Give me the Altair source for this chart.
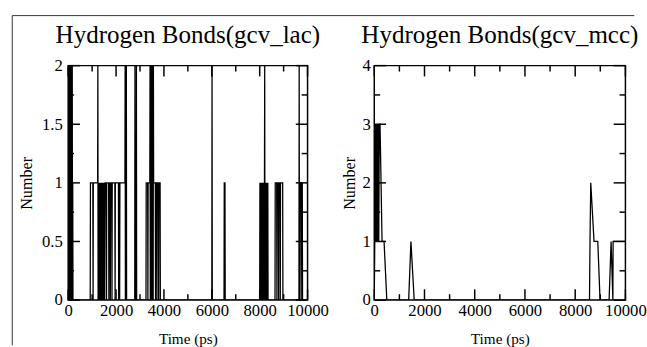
import altair as alt
import pandas as pd

# ---------------- data ----------------
lac_time = [
    0, 10, 20, 30, 40, 50, 60, 70, 80, 90, 100, 110, 120, 130, 140, 150, 160, 170, 180, 190, 200,
    920, 930, 1030, 1040, 1050, 1230, 1240, 1250, 1260,
    1280, 1290, 1300, 1320, 1330, 1340, 1360, 1370, 1390, 1400, 1410, 1430, 1440, 1450, 1470, 1480, 1500, 1510, 1520, 1540,
    1590, 1600, 1610, 1690, 1700, 1710, 1750, 1760, 1770, 1820, 1830, 1840, 1950, 1960, 1970, 2100, 2110, 2120, 2140, 2150, 2160,
    2370, 2380, 2390, 2400, 2410, 2430, 2440,
    2780, 2790, 2800, 2840, 2850, 2860,
    3250, 3260, 3320, 3330, 3340, 3410, 3420, 3430, 3440, 3450, 3460, 3470, 3480, 3490, 3500, 3510, 3520, 3530, 3540, 3550, 3560, 3570,
    3640, 3650, 3660, 3700, 3710, 3720, 3770, 3780, 3790, 3840, 3850,
    6000, 6010, 6020,
    6510, 6520, 6550, 6560,
    8000, 8010, 8020, 8030, 8050, 8060, 8070, 8090, 8100, 8110, 8130, 8140, 8160, 8170, 8180, 8200, 8210, 8220, 8230, 8250, 8260, 8270, 8290, 8300, 8310, 8330, 8340, 8350,
    8640, 8650, 8710, 8720, 8730, 8780, 8790, 8800, 8850, 8860, 8870, 8960, 8970,
    9640, 9650, 9660, 9670, 9720, 9730, 9740, 9780, 9790, 10000,
]
lac_value = [
    0, 2, 0, 2, 1, 2, 0, 2, 1, 2, 0, 2, 0, 2, 1, 2, 0, 2, 0, 1, 0,
    0, 1, 1, 0, 1, 1, 2, 0, 1,
    0, 1, 0, 1, 0, 1, 0, 1, 0, 1, 0, 1, 0, 1, 0, 1, 0, 1, 0, 1,
    1, 0, 1, 1, 0, 1, 1, 0, 1, 1, 0, 1, 1, 0, 1, 1, 0, 1, 1, 0, 1,
    1, 2, 0, 2, 1, 2, 0,
    0, 2, 0, 0, 2, 0,
    0, 1, 1, 0, 1, 1, 2, 0, 2, 1, 2, 0, 2, 1, 2, 0, 2, 1, 2, 0, 2, 1,
    1, 0, 1, 1, 0, 1, 1, 0, 1, 1, 0,
    0, 2, 0,
    0, 1, 1, 0,
    0, 1, 0, 1, 0, 1, 0, 1, 0, 1, 0, 1, 0, 1, 0, 1, 2, 0, 1, 0, 1, 0, 1, 0, 1, 0, 1, 0,
    0, 1, 1, 0, 1, 1, 0, 1, 1, 0, 1, 1, 0,
    0, 2, 0, 1, 1, 0, 1, 1, 0, 0,
]

mcc_time = [0, 20, 40, 60, 80, 100, 120, 140, 160, 180, 200, 230, 310, 390, 500,
            1370, 1460, 1590,
            8570, 8590, 8620, 8750, 8900, 8990,
            9350, 9430, 9500, 9510, 10000]
mcc_value = [0, 1, 3, 1, 3, 1, 3, 1, 3, 1, 3, 3, 1, 1, 0,
             0, 1, 0,
             0, 1, 2, 1, 1, 0,
             0, 1, 0, 1, 1]

x_major = [0, 2000, 4000, 6000, 8000, 10000]
x_minor = [1000, 3000, 5000, 7000, 9000]
lac_y_major = [0, 0.5, 1, 1.5, 2]
lac_y_minor = [0.25, 0.75, 1.25, 1.75]
mcc_y_major = [0, 1, 2, 3, 4]
mcc_y_minor = [0.5, 1.5, 2.5, 3.5]

titles = ["Hydrogen Bonds(gcv_lac)", "Hydrogen Bonds(gcv_mcc)"]
x_title = "Time (ps)"
y_title = "Number"

assert len(lac_time) == len(lac_value)
assert len(mcc_time) == len(mcc_value)

FONT = "Liberation Serif"
H = 239


def panel(times, values, ymax, ymaj, ymin, title, W, label_pad, title_pad, frame=False):
    df = pd.DataFrame({"t": times, "v": values, "i": list(range(len(times)))})
    xs = alt.Scale(domain=[0, 10000], nice=False, zero=False)
    ys = alt.Scale(domain=[0, ymax], nice=False)
    common = dict(labelFont=FONT, labelFontSize=17, labelColor="black",
                  titleFont=FONT, titleFontWeight="normal", titleColor="black",
                  domain=False, ticks=False, tickSize=0, grid=False, labelFlush=False)
    X = alt.X("t:Q", scale=xs,
              axis=alt.Axis(values=x_major, format="d", title=x_title,
                            labelPadding=3, titlePadding=13, titleFontSize=15.5, **common))
    Y = alt.Y("v:Q", scale=ys,
              axis=alt.Axis(values=ymaj, format="~g", title=y_title,
                            labelPadding=label_pad, titlePadding=title_pad,
                            titleFontSize=16.5, **common))

    line = alt.Chart(df).mark_line(color="black", strokeWidth=1.3, clip=True).encode(
        x=X, y=Y, order="i:Q")

    def xticks(vals, length):
        d = pd.DataFrame({"t": vals})
        base = alt.Chart(d).mark_rule(color="black", strokeWidth=1.5)
        bottom = base.encode(x=X, y=alt.value(H), y2=alt.value(H - length))
        top = base.encode(x=X, y=alt.value(0), y2=alt.value(length))
        return [bottom, top]

    def yticks(vals, length):
        d = pd.DataFrame({"v": vals})
        base = alt.Chart(d).mark_rule(color="black", strokeWidth=1.5)
        left = base.encode(y=Y, x=alt.value(0), x2=alt.value(length))
        right = base.encode(y=Y, x=alt.value(W), x2=alt.value(W - length))
        return [left, right]

    ttl = alt.Chart(pd.DataFrame({"s": [title]})).mark_text(
        font=FONT, fontSize=25.5, align="center", baseline="alphabetic", color="black"
    ).encode(x=alt.value(W / 2), y=alt.value(-23), text="s:N")

    layers = [line] + xticks(x_major, 11) + xticks(x_minor, 6) + yticks(ymaj, 12) + yticks(ymin, 6) + [ttl]

    if frame:
        fd = pd.DataFrame({"a": [0]})
        vline = alt.Chart(fd).mark_rule(color="#333333", strokeWidth=1).encode(
            x=alt.value(-57), y=alt.value(-51), y2=alt.value(H + 46))
        hline = alt.Chart(fd).mark_rule(color="#333333", strokeWidth=1).encode(
            x=alt.value(-57), x2=alt.value(577), y=alt.value(-51))
        layers += [vline, hline]

    return alt.layer(*layers).properties(width=W, height=H)


left = panel(lac_time, lac_value, 2, lac_y_major, lac_y_minor, titles[0], 244, 6, 7, frame=True)
right = panel(mcc_time, mcc_value, 4, mcc_y_major, mcc_y_minor, titles[1], 256, 4, 5)

chart = alt.hconcat(left, right, spacing=68, bounds="flush").properties(
    padding={"left": 10.5, "top": 10.5, "right": 0, "bottom": 0},
    background="white",
).configure_view(
    stroke="black", strokeWidth=1.5
)

chart.save("out.html", embed_options={"renderer": "svg", "actions": False})
